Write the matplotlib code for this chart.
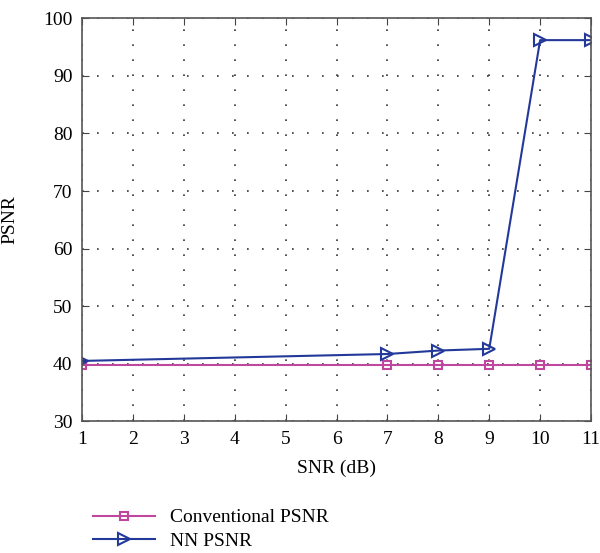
import numpy as np
import matplotlib
matplotlib.use('Agg')
import matplotlib.pyplot as plt

plt.rcParams['font.family'] = ['Liberation Serif', 'DejaVu Serif']

snr = [1, 7, 8, 9, 10, 11]
conv_psnr = [39.8, 39.8, 39.8, 39.8, 39.8, 39.8]
nn_psnr = [40.5, 41.7, 42.3, 42.6, 96.2, 96.2]

fig = plt.figure(figsize=(6, 5.53), dpi=100)
ax = fig.add_axes([0.137, 0.238, 0.848, 0.729])

ax.plot(snr, conv_psnr, color='#c0479e', marker='s', markersize=6,
        markerfacecolor='none', markeredgewidth=1.5, linewidth=1.5,
        label='Conventional PSNR')
ax.plot(snr, nn_psnr, color='#23399a', marker='>', markersize=8,
        markerfacecolor='none', markeredgewidth=1.5, linewidth=1.5,
        label='NN PSNR')

ax.set_xlim(1, 11)
ax.set_ylim(30, 100)
ax.set_xticks(range(1, 12))
ax.set_yticks(range(30, 101, 10))
ax.tick_params(direction='in', labelsize=14, length=5, color='#444444',
               top=True, right=True, pad=7)
ax.grid(True, linestyle=(0, (1, 8)), color='#333333', linewidth=1.2)
for s in ax.spines.values():
    s.set_color('#555555')
    s.set_linewidth(1.2)

ax.set_xlabel('SNR (dB)', fontsize=14, labelpad=8)
ax.set_ylabel('PSNR', fontsize=14, labelpad=18)

fig.legend(loc='lower left', bbox_to_anchor=(0.125, -0.026), frameon=False,
           fontsize=14, handlelength=3.2, labelspacing=0.3)

fig.savefig('out.png', dpi=100)
